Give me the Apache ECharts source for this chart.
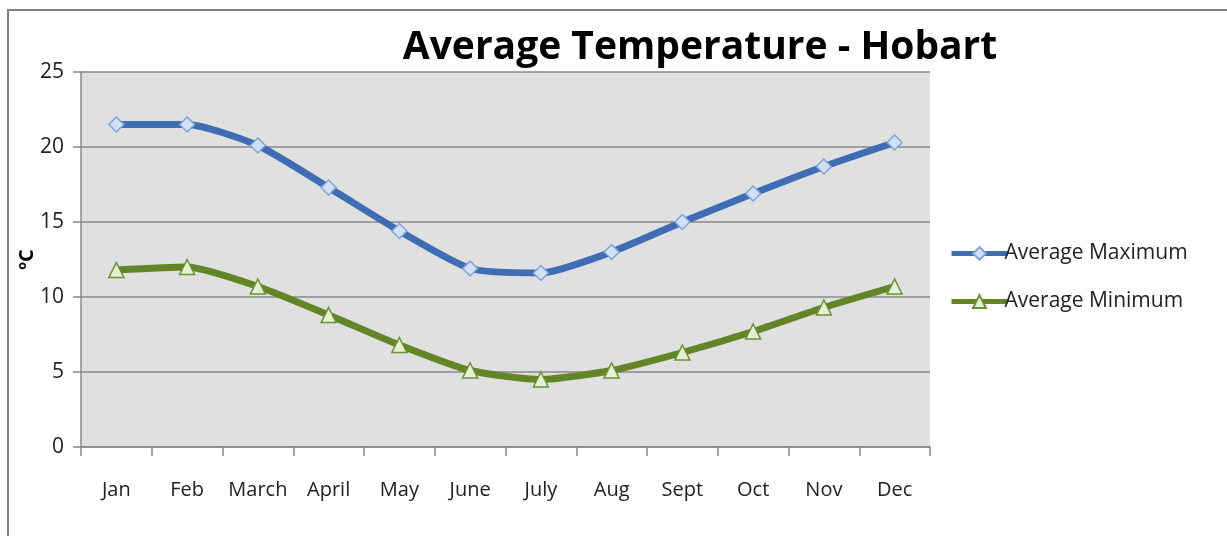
<!DOCTYPE html>
<html>
<head>
<meta charset="utf-8">
<script src="https://cdn.jsdelivr.net/npm/echarts@6/dist/echarts.min.js"></script>
<style>
  * { margin: 0; padding: 0; }
  body { background: #fff; width: 1227px; height: 536px; overflow: hidden; }
  #frame { position: absolute; left: 7px; top: 9px; width: 1240px; height: 560px; border: 2px solid #808080; }
  #chart { position: absolute; left: 0; top: 0; width: 1227px; height: 536px; }
</style>
</head>
<body>
<div id="frame"></div>
<div id="chart"></div>
<script>
// 月份
const months = ['Jan', 'Feb', 'March', 'April', 'May', 'June', 'July', 'Aug', 'Sept', 'Oct', 'Nov', 'Dec']
// 平均最高/最低气温
const avgMax = [21.5, 21.5, 20.1, 17.3, 14.4, 11.9, 11.6, 13.0, 15.0, 16.9, 18.7, 20.3]
const avgMin = [11.8, 12.0, 10.7, 8.8, 6.8, 5.1, 4.5, 5.1, 6.3, 7.7, 9.3, 10.7]

const chart = echarts.init(document.getElementById('chart'))
chart.setOption({
  title: {
    text: 'Average Temperature - Hobart',
    left: 695,
    top: 23,
    textAlign: 'center',
    textStyle: { fontFamily: 'Open Sans', fontWeight: 'bold', fontSize: 39, color: '#000' }
  },
  legend: {
    orient: 'vertical',
    left: 944,
    top: 238,
    itemGap: 27,
    itemWidth: 56,
    itemHeight: 16,
    lineStyle: { width: 5 },
    textStyle: { fontFamily: 'Open Sans', fontSize: 21, color: '#222', padding: [0, 0, 0, -8] },
    data: ['Average Maximum', 'Average Minimum']
  },
  grid: {
    left: 81,
    right: 297,
    top: 72,
    bottom: 89,
    show: true,
    backgroundColor: '#e0e0e0',
    borderWidth: 0
  },
  xAxis: {
    type: 'category',
    boundaryGap: true,
    data: months,
    axisLine: { lineStyle: { color: '#888', width: 1.5 } },
    axisTick: { show: true, interval: 0, length: 9, lineStyle: { color: '#888', width: 1.5 } },
    axisLabel: { interval: 0, margin: 33, fontFamily: 'Open Sans', fontSize: 20, color: '#222' }
  },
  yAxis: {
    type: 'value',
    min: 0,
    max: 25,
    interval: 5,
    name: 'ºC',
    nameLocation: 'middle',
    nameGap: 44,
    nameMoveOverlap: false,
    nameRotate: 90,
    nameTextStyle: { fontFamily: 'Open Sans', fontWeight: 'bold', fontSize: 20, color: '#000' },
    axisLine: { show: true, lineStyle: { color: '#888', width: 1.5 } },
    axisTick: { show: true, length: 8, lineStyle: { color: '#888', width: 1.5 } },
    axisLabel: { margin: 17, fontFamily: 'Open Sans', fontSize: 21, color: '#222' },
    splitLine: { lineStyle: { color: '#8a8a8a', width: 1.5 } }
  },
  series: [{
    name: 'Average Maximum',
    type: 'line',
    smooth: 0.2,
    data: avgMax,
    symbol: 'diamond',
    symbolSize: 15,
    lineStyle: { color: '#3f6db3', width: 7 },
    itemStyle: { color: '#d2e0f3', borderColor: '#7fa3d8', borderWidth: 1.5 }
  }, {
    name: 'Average Minimum',
    type: 'line',
    smooth: 0.2,
    data: avgMin,
    symbol: 'triangle',
    symbolSize: 15,
    lineStyle: { color: '#628528', width: 7 },
    itemStyle: { color: '#e6f0d2', borderColor: '#6c9133', borderWidth: 1.5 }
  }]
})
</script>
</body>
</html>
